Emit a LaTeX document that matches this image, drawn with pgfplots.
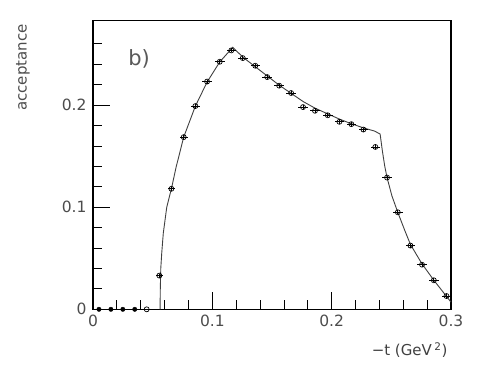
\documentclass[border=0pt]{standalone}
\usepackage{fontspec}
\setmainfont{DejaVu Sans}
\usepackage{pgfplots}
\pgfplotsset{compat=1.18}

% measured points: x, y, x error, y error
\pgfplotstableread{
x y ex ey
0.0556 0.033 0.003 0.002
0.0657 0.118 0.003 0.002
0.0760 0.1686 0.0035 0.002
0.0858 0.199 0.0035 0.002
0.0956 0.223 0.004 0.002
0.1062 0.2424 0.004 0.002
0.1159 0.2535 0.004 0.002
0.1255 0.246 0.004 0.002
0.1360 0.2385 0.004 0.002
0.1460 0.2274 0.004 0.002
0.1560 0.219 0.004 0.002
0.1660 0.2118 0.004 0.002
0.1760 0.198 0.004 0.002
0.1860 0.1944 0.004 0.002
0.1967 0.190 0.004 0.002
0.2065 0.1836 0.004 0.002
0.2165 0.1813 0.004 0.002
0.2266 0.176 0.004 0.002
0.2366 0.159 0.004 0.002
0.2464 0.129 0.004 0.002
0.2554 0.095 0.004 0.002
0.2660 0.0624 0.004 0.002
0.2757 0.0437 0.004 0.002
0.2856 0.0284 0.004 0.002
0.2962 0.013 0.004 0.002
}\accdata

\pgfplotstableread{
x y ex ey
0.005 0 0.004 0
0.015 0 0.004 0
0.025 0 0.004 0
0.035 0 0.004 0
}\zerodata

\begin{document}
\begin{tikzpicture}
\useasboundingbox (-93pt,-58.7pt) rectangle (404pt,309.3pt);
\begin{axis}[
  scale only axis, width=358pt, height=288.6pt,
  xmin=0, xmax=0.3, ymin=0, ymax=0.2826,
  xtick={0,0.1,0.2,0.3}, xticklabels={0,0.1,0.2,0.3},
  ytick={0,0.1,0.2}, yticklabels={0,0.1,0.2},
  minor xtick={0.02,0.04,0.06,0.08,0.12,0.14,0.16,0.18,0.22,0.24,0.26,0.28},
  minor ytick={0.02,0.04,0.06,0.08,0.12,0.14,0.16,0.18,0.22,0.24,0.26},
  xtick pos=bottom, ytick pos=left, tick align=inside,
  major tick length=17pt, minor tick length=9pt,
  every tick/.style={black, line width=0.8pt},
  axis line style={line width=1.1pt},
  tick label style={font=\fontsize{15.5}{17}\selectfont, text=black!70},
  xticklabel style={yshift=-2pt},
  yticklabel style={xshift=-3pt},
  clip=false,
]
\addplot[black!75, line width=0.9pt, mark=none] coordinates {
(0.0562,0) (0.0564,0.02) (0.0568,0.04) (0.0576,0.055) (0.0589,0.0745)
(0.0618,0.1) (0.0657,0.118) (0.0696,0.139) (0.076,0.1686) (0.0858,0.199)
(0.0956,0.2225) (0.1062,0.2422) (0.1171,0.2565) (0.126,0.2465) (0.136,0.2375)
(0.146,0.2285) (0.156,0.2195) (0.166,0.2115) (0.176,0.2035) (0.186,0.197)
(0.197,0.1912) (0.207,0.186) (0.217,0.1815) (0.227,0.1775) (0.236,0.1745)
(0.2406,0.1716) (0.2425,0.155) (0.2445,0.14) (0.2464,0.129) (0.2505,0.111)
(0.2554,0.095) (0.261,0.078) (0.266,0.0635) (0.2757,0.0445) (0.2856,0.0285)
(0.296,0.013) (0.3,0.007)
};
\addplot[only marks, mark=o, mark size=2.5pt, mark options={black, line width=0.7pt, fill=white},
  error bars/.cd, x dir=both, x explicit, y dir=both, y explicit,
  error bar style={black, line width=0.7pt}, error mark=none]
  table[x=x, y=y, x error=ex, y error=ey] {\accdata};
\addplot[only marks, mark=*, mark size=2.2pt, mark options={black},
  error bars/.cd, x dir=both, x explicit,
  error bar style={black, line width=0.7pt}, error mark=none]
  table[x=x, y=y, x error=ex] {\zerodata};
\addplot[only marks, mark=o, mark size=2.5pt, mark options={black, line width=0.7pt, fill=white},
  error bars/.cd, x dir=both, x explicit,
  error bar style={black, line width=0.7pt}, error mark=none]
  coordinates {(0.045,0) +- (0.004,0)};
\node[font=\fontsize{21}{25}\selectfont, text=black!65] at (axis cs:0.0386,0.245) {b)};
\node[rotate=90, anchor=east, font=\fontsize{15}{17}\selectfont, text=black!70]
  at (rel axis cs:-0.1955,1) {acceptance};
\node[anchor=north east, font=\fontsize{15}{17}\selectfont, text=black!75]
  at (rel axis cs:1,0) [yshift=-30pt] {−t (GeV\,\textsuperscript{2})};
\end{axis}
\end{tikzpicture}
\end{document}
